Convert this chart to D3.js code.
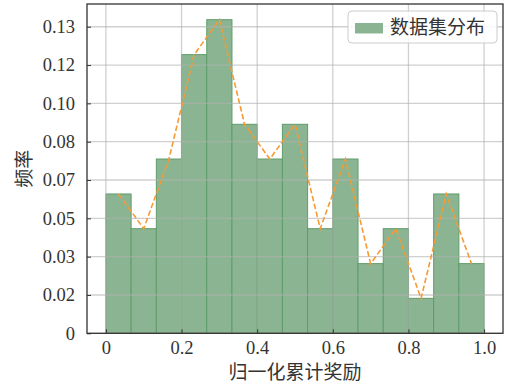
<!DOCTYPE html>
<html><head><meta charset="utf-8">
<script src="https://cdn.jsdelivr.net/npm/d3@7"></script>
<style>body{margin:0;background:#fff}svg{display:block}
.num{font-family:"Liberation Serif","Times New Roman",Times,serif;font-size:18.5px}
.cjk{font-family:"Noto Sans CJK SC","Noto Sans",sans-serif;font-size:19px}
</style>
</head><body>
<script>
// Histogram of normalized cumulative reward (15 bins over [0,1])
const binEdges = [0, 1/15, 2/15, 3/15, 4/15, 5/15, 6/15, 7/15, 8/15, 9/15, 10/15, 11/15, 12/15, 13/15, 14/15, 1];
const frequencies = [0.0606, 0.0455, 0.0758, 0.1212, 0.1364, 0.0909, 0.0758, 0.0909, 0.0455, 0.0758, 0.0303, 0.0455, 0.0152, 0.0606, 0.0303];
const xTicks = [0, 0.2, 0.4, 0.6, 0.8, 1.0];
const xTickLabels = ["0", "0.2", "0.4", "0.6", "0.8", "1.0"];
const yTicks = [0, 1/60, 2/60, 3/60, 4/60, 5/60, 6/60, 7/60, 8/60];
const yTickLabels = ["0", "0.02", "0.03", "0.05", "0.07", "0.08", "0.10", "0.12", "0.13"];
const legendLabel = "数据集分布";
const xLabel = "归一化累计奖励";
const yLabel = "频率";

const W = 505, H = 389;
const m = {left: 87, right: 2, top: 4, bottom: 55.7};
const svg = d3.select("body").append("svg").attr("width", W).attr("height", H);
const x = d3.scaleLinear().domain([-0.05, 1.05]).range([m.left, W - m.right]);
const y = d3.scaleLinear().domain([0, d3.max(frequencies) * 1.05]).range([H - m.bottom, m.top]);

// bars
const bins = frequencies.map((v, i) => ({x0: binEdges[i], x1: binEdges[i + 1], v}));
svg.append("g").selectAll("rect").data(bins).join("rect")
  .attr("x", d => x(d.x0)).attr("width", d => x(d.x1) - x(d.x0))
  .attr("y", d => y(d.v)).attr("height", d => y(0) - y(d.v))
  .attr("fill", "#8bb592").attr("stroke", "#5f9c6a").attr("stroke-width", 1);

// grid (above bars)
const grid = svg.append("g").attr("stroke", "#b0b0b0").attr("stroke-opacity", 0.6).attr("stroke-width", 1.3);
grid.selectAll(".gx").data(xTicks).join("line")
  .attr("x1", d => x(d)).attr("x2", d => x(d)).attr("y1", y.range()[0]).attr("y2", y.range()[1]);
grid.selectAll(".gy").data(yTicks).join("line")
  .attr("y1", d => y(d)).attr("y2", d => y(d)).attr("x1", x.range()[0]).attr("x2", x.range()[1]);

// dashed line through bin centers
const line = d3.line().x(d => x((d.x0 + d.x1) / 2)).y(d => y(d.v));
svg.append("path").datum(bins).attr("d", line)
  .attr("fill", "none").attr("stroke", "#f59a35").attr("stroke-width", 1.6)
  .attr("stroke-dasharray", "5.5,2.6");

// axes
const xAxis = d3.axisBottom(x).tickValues(xTicks).tickFormat((d, i) => xTickLabels[i]).tickSizeInner(-4).tickSizeOuter(0).tickPadding(12);
const yAxis = d3.axisLeft(y).tickValues(yTicks).tickFormat((d, i) => yTickLabels[i]).tickSizeInner(-4).tickSizeOuter(0).tickPadding(12);
const gx = svg.append("g").attr("transform", `translate(0,${y(0)})`).call(xAxis);
const gy = svg.append("g").attr("transform", `translate(${x.range()[0]},0)`).call(yAxis);
[gx, gy].forEach(g => {
  g.attr("font-family", null).attr("font-size", null);
  g.select(".domain").remove();
  g.selectAll(".tick line").attr("stroke", "#333").attr("stroke-width", 1);
  g.selectAll(".tick text").attr("fill", "#333").attr("class", "num");
});
gx.selectAll(".tick text").attr("dy", "0.71em").attr("y", 8);

// frame
svg.append("rect").attr("x", x.range()[0]).attr("y", y.range()[1])
  .attr("width", x.range()[1] - x.range()[0]).attr("height", y.range()[0] - y.range()[1])
  .attr("fill", "none").attr("stroke", "#333").attr("stroke-width", 1.3);

// labels
svg.append("text").attr("class", "cjk").attr("x", (x.range()[0] + x.range()[1]) / 2).attr("y", 379)
  .attr("text-anchor", "middle").attr("fill", "#333").text(xLabel);
svg.append("text").attr("class", "cjk").attr("transform", `translate(31,${(y.range()[0] + y.range()[1]) / 2}) rotate(-90)`)
  .attr("text-anchor", "middle").attr("fill", "#333").text(yLabel);

// legend
const lg = svg.append("g");
lg.append("rect").attr("x", 348).attr("y", 11).attr("width", 149).attr("height", 32).attr("rx", 4)
  .attr("fill", "#fff").attr("fill-opacity", 0.85).attr("stroke", "#cccccc").attr("stroke-width", 1);
lg.append("rect").attr("x", 355).attr("y", 23).attr("width", 28).attr("height", 10.5).attr("fill", "#8bb592");
lg.append("text").attr("class", "cjk").attr("x", 390).attr("y", 34).attr("fill", "#333").text(legendLabel);
</script>
</body></html>
